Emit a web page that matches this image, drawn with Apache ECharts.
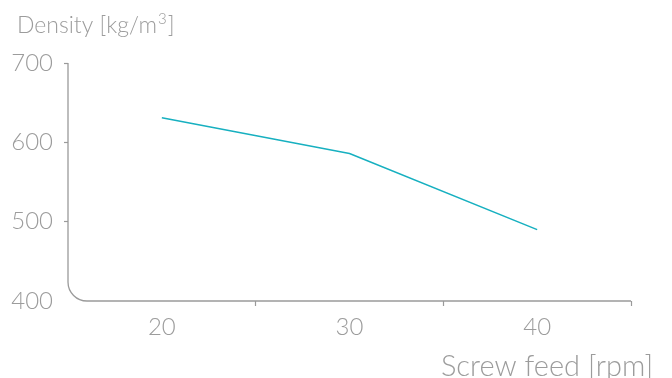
<!DOCTYPE html>
<html><head><meta charset="utf-8">
<script src="https://cdn.jsdelivr.net/npm/echarts@6/dist/echarts.min.js"></script>
<style>html,body{margin:0;padding:0;background:#fff}#c{width:672px;height:378px}</style>
</head><body><div id="c"></div>
<script>
const categories = ['20', '30', '40'];
const density = [631, 586, 490];
const yTicks = [400, 500, 600, 700];

const FONT = 'Lato';
const AXIS = '#9a9a9a';
const TXT = '#9c9c9c';
const G = {left: 68, right: 41, top: 63, bottom: 77};

const chart = echarts.init(document.getElementById('c'), null, {renderer: 'canvas'});
chart.setOption({
  animation: false,
  backgroundColor: '#fff',
  title: [
    {text: 'Density [kg/m{s|3}]', left: 12, top: 7,
     textStyle: {fontFamily: FONT, fontWeight: 300, fontSize: 23, color: TXT,
       rich: {s: {fontFamily: FONT, fontWeight: 300, fontSize: 15, color: TXT, padding: [0, 1, 12, 1]}}}},
    {text: 'Screw feed [rpm]', right: 14, top: 347,
     textStyle: {fontFamily: FONT, fontWeight: 300, fontSize: 29, color: TXT}}
  ],
  grid: G,
  xAxis: {
    type: 'category', data: categories, boundaryGap: true,
    axisLine: {show: false},
    axisTick: {show: true, length: 5, lineStyle: {color: AXIS, width: 1.2},
               interval: function (i) { return i !== 0; }},
    axisLabel: {fontFamily: FONT, fontWeight: 300, fontSize: 24, color: TXT, margin: 14}
  },
  yAxis: {
    type: 'value', min: yTicks[0], max: yTicks[yTicks.length - 1], interval: 100,
    splitLine: {show: false},
    axisLine: {show: false},
    axisTick: {show: true, length: 4, lineStyle: {color: AXIS, width: 1.2},
               customValues: yTicks.slice(1)},
    axisLabel: {fontFamily: FONT, fontWeight: 300, fontSize: 24, color: TXT, margin: 15}
  },
  series: [{
    type: 'line', data: density, symbol: 'none',
    lineStyle: {color: '#17b0c0', width: 1.5}
  }]
});

// rounded axis corner built from the grid's own coordinates
const yTop = chart.convertToPixel({yAxisIndex: 0}, yTicks[yTicks.length - 1]);
const yBot = chart.convertToPixel({yAxisIndex: 0}, yTicks[0]);
const x0 = G.left;
const x1 = 672 - G.right;
const r = 19;
const k = 0.5523 * r;
const ls = {stroke: AXIS, lineWidth: 1.3, fill: null};
chart.setOption({
  graphic: [
    {type: 'line', shape: {x1: x0, y1: yTop, x2: x0, y2: yBot - r}, style: ls, silent: true},
    {type: 'bezierCurve', shape: {x1: x0, y1: yBot - r, cpx1: x0, cpy1: yBot - r + k,
      cpx2: x0 + r - k, cpy2: yBot, x2: x0 + r, y2: yBot}, style: ls, silent: true},
    {type: 'line', shape: {x1: x0 + r, y1: yBot, x2: x1, y2: yBot}, style: ls, silent: true}
  ]
});
</script></body></html>
